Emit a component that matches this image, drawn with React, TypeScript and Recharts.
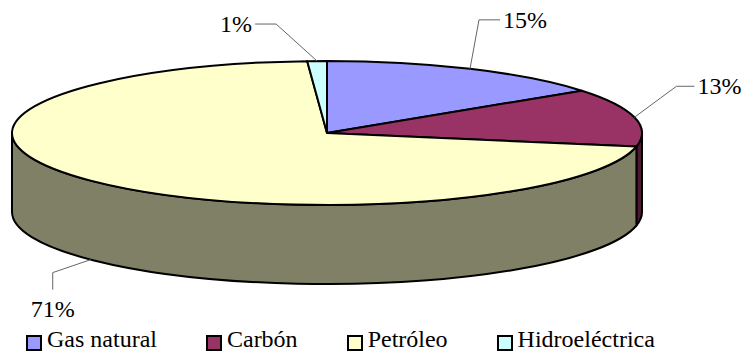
import { PieChart, Pie, Legend } from "recharts";

const categories = ["Gas natural", "Carbón", "Petróleo", "Hidroeléctrica"];
const shares = [15, 13, 71, 1];

const topColors = ["#9999FF", "#993366", "#FFFFCC", "#CCFFFF"];
const sideColors = ["#4D4D80", "#4D1933", "#808066", "#668080"];

const data = categories.map((name, i) => ({ name, value: shares[i] }));

const W = 747;
const H = 354;
const CX = 327;
const CY = 133;
const RX = 315;
const RY = 72;
const DEPTH = 79;
const FONT = "'Liberation Serif', 'DejaVu Serif', 'Times New Roman', Times, serif";

// leader line: elbow offset from the rim anchor, then a short tail towards the text
const labelLayout = [
  { dx: 9, dy: -49, tx: 21, ty: 0, anchor: "start" },
  { dx: 42, dy: -31, tx: 18, ty: 0, anchor: "start" },
  { dx: -38, dy: 13, tx: 0, ty: 17, anchor: "middle" },
  { dx: -41, dy: -37, tx: -21, ty: 0, anchor: "end" },
];

// point on an ellipse, angle measured clockwise from 12 o'clock
const rim = (cx: number, cy: number, rx: number, ry: number, t: number) => {
  const r = (t * Math.PI) / 180;
  return [cx + rx * Math.sin(r), cy - ry * Math.cos(r)];
};

const renderSlice = (props: any) => {
  const { cx, cy, outerRadius, startAngle, endAngle, index, percent } = props;
  const rx = outerRadius;
  const ry = (outerRadius * RY) / RX;
  const t0 = 90 - startAngle;
  const t1 = 90 - endAngle;
  const p0 = rim(cx, cy, rx, ry, t0);
  const p1 = rim(cx, cy, rx, ry, t1);
  const large = t1 - t0 > 180 ? 1 : 0;
  const top = `M${cx},${cy} L${p0[0]},${p0[1]} A${rx},${ry} 0 ${large} 1 ${p1[0]},${p1[1]} Z`;

  // only the front half of the side wall can be seen
  const w0 = Math.max(t0, 90);
  const w1 = Math.min(t1, 270);
  let wall: string | null = null;
  if (w1 > w0) {
    const a = rim(cx, cy, rx, ry, w0);
    const b = rim(cx, cy, rx, ry, w1);
    const lg = w1 - w0 > 180 ? 1 : 0;
    wall =
      `M${a[0]},${a[1]} A${rx},${ry} 0 ${lg} 1 ${b[0]},${b[1]} ` +
      `L${b[0]},${b[1] + DEPTH} A${rx},${ry} 0 ${lg} 0 ${a[0]},${a[1] + DEPTH} Z`;
  }

  const mid = (t0 + t1) / 2;
  const anc = rim(cx, cy, rx, ry, mid);
  if (mid > 90 && mid < 270) anc[1] += DEPTH;
  const lay = labelLayout[index];
  const ex = anc[0] + lay.dx;
  const ey = anc[1] + lay.dy;
  const fx = ex + lay.tx;
  const fy = ey + lay.ty;
  let lx = fx;
  let ly = fy;
  if (lay.anchor === "start") lx += 3;
  if (lay.anchor === "end") lx -= 3;
  if (lay.anchor === "middle") ly += 19;

  return (
    <g>
      {wall && <path d={wall} fill={sideColors[index]} stroke="#000" strokeWidth={2} strokeLinejoin="round" />}
      <path d={top} fill={topColors[index]} stroke="#000" strokeWidth={2} strokeLinejoin="round" />
      <polyline
        points={`${anc[0]},${anc[1]} ${ex},${ey} ${fx},${fy}`}
        fill="none"
        stroke="#666"
        strokeWidth={1}
      />
      <text
        x={lx}
        y={ly}
        textAnchor={lay.anchor}
        dominantBaseline="central"
        style={{ fontFamily: FONT, fontSize: 24 }}
        fill="#000"
      >
        {`${Math.round(percent * 100)}%`}
      </text>
    </g>
  );
};

const renderLegend = () => (
  <div style={{ display: "flex", alignItems: "center", paddingLeft: 26, fontFamily: FONT, fontSize: 24, lineHeight: "27px", color: "#000" }}>
    {categories.map((name, i) => (
      <div key={name} style={{ display: "flex", alignItems: "center", marginRight: 49 }}>
        <span
          style={{
            width: 16,
            height: 16,
            boxSizing: "border-box",
            border: "2px solid #000",
            background: topColors[i],
            marginRight: 5,
            position: "relative",
            top: 3,
          }}
        />
        <span>{name}</span>
      </div>
    ))}
  </div>
);

export default function App() {
  return (
    <div style={{ position: "absolute", left: 0, top: 0, width: W, height: H, background: "#fff" }}>
      <PieChart width={W} height={H} margin={{ top: 0, right: 0, bottom: 0, left: 0 }}>
        <Pie
          data={data}
          dataKey="value"
          nameKey="name"
          cx={CX}
          cy={CY}
          outerRadius={RX}
          startAngle={90}
          endAngle={-270}
          fill="none"
          stroke="none"
          label={renderSlice}
          labelLine={false}
          isAnimationActive={false}
        />
        <Legend content={renderLegend} wrapperStyle={{ left: 0, top: 326, bottom: "auto", width: W }} />
      </PieChart>
    </div>
  );
}
